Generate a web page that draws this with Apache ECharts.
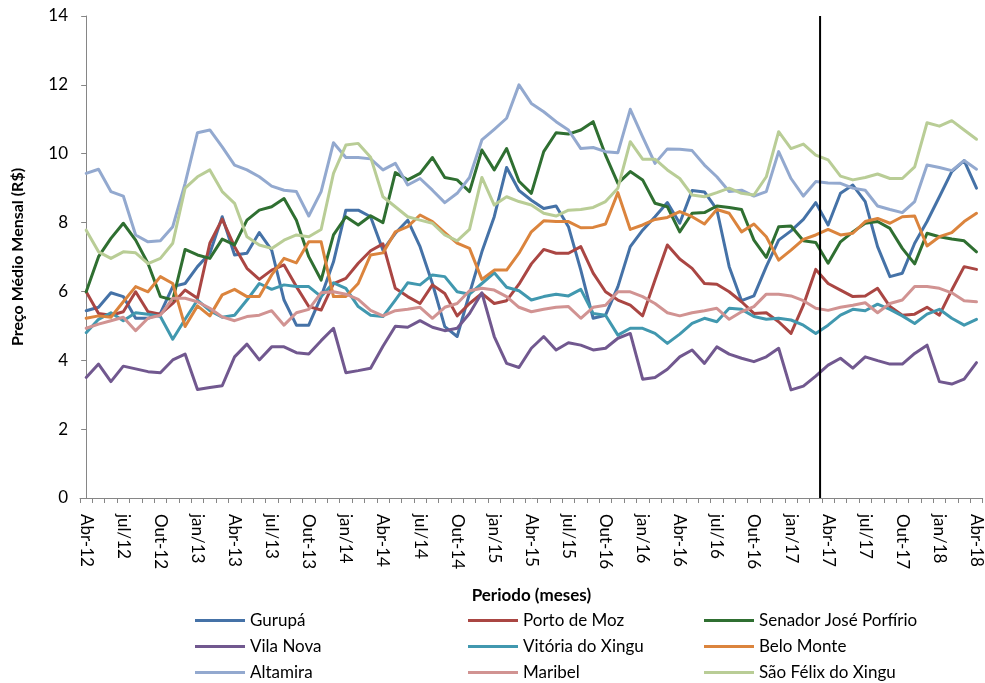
<!DOCTYPE html>
<html><head><meta charset="utf-8">
<script src="https://cdn.jsdelivr.net/npm/echarts@6/dist/echarts.min.js"></script>
<style>html,body{margin:0;padding:0;background:#fff}#c{width:985px;height:683px}</style>
</head><body><div id="c"></div><script>
const categories = [
 "Abr-12","Mai-12","Jun-12","jul/12","Ago-12","Set-12","Out-12","Nov-12","Dez-12",
 "jan/13","Fev-13","Mar-13","Abr-13","Mai-13","Jun-13","jul/13","Ago-13","Set-13","Out-13","Nov-13","Dez-13",
 "jan/14","Fev-14","Mar-14","Abr-14","Mai-14","Jun-14","jul/14","Ago-14","Set-14","Out-14","Nov-14","Dez-14",
 "jan/15","Fev-15","Mar-15","Abr-15","Mai-15","Jun-15","jul/15","Ago-15","Set-15","Out-16","Nov-15","Dez-15",
 "jan/16","Fev-16","Mar-16","Abr-16","Mai-16","Jun-16","jul/16","Ago-16","Set-16","Out-16 ","Nov-16","Dez-16",
 "jan/17","Fev-17","Mar-17","Abr-17","Mai-17","Jun-17","jul/17","Ago-17","Set-17","Out-17","Nov-17","Dez-17",
 "jan/18","Fev-18","Mar-18","Abr-18"];

const gurupa = [5.44,5.54,5.96,5.85,5.22,5.22,5.36,6.14,6.23,6.72,7.11,8.17, 7.06,7.11,7.71,7.2,5.75,5.02,5.02,5.85,6.86,8.36,8.36,8.17, 7.2,7.69,8.07,7.3,6.23,4.98,4.69,5.94,7.15,8.17,9.6,8.93, 8.65,8.41,8.48,7.88,6.62,5.22,5.31,6.14,7.3,7.78,8.17,8.58, 7.98,8.93,8.89,8.38,6.72,5.73,5.87,6.72,7.49,7.76,8.09,8.58, 7.93,8.85,9.09,8.61,7.3,6.43,6.53,7.4,8.03,8.75,9.48,9.8,9.0];
const portoDeMoz = [5.99,5.36,5.31,5.41,5.99,5.41,5.34,5.65,6.04,5.8,7.4,8.1, 7.3,6.67,6.35,6.62,6.77,6.14,5.56,5.46,6.23,6.38,6.82,7.18, 7.38,6.09,5.85,5.65,6.19,5.94,5.29,5.65,5.94,5.65,5.73,6.21, 6.8,7.22,7.11,7.11,7.3,6.53,5.99,5.75,5.6,5.29,6.33,7.35, 6.94,6.67,6.23,6.21,5.99,5.7,5.36,5.38,5.12,4.78,5.6,6.64, 6.23,6.04,5.85,5.87,6.09,5.56,5.31,5.34,5.54,5.31,6.04,6.72,6.64];
const senador = [5.99,7.01,7.54,7.98,7.49,6.81,5.85,5.75,7.22,7.06,6.96,7.52, 7.35,8.07,8.36,8.46,8.7,8.07,7.01,6.33,7.64,8.17,7.93,8.2, 8.0,9.45,9.24,9.43,9.89,9.31,9.24,8.9,10.11,9.53,10.15,9.2, 8.85,10.06,10.61,10.57,10.69,10.93,9.96,9.14,9.48,9.24,8.56,8.46, 7.73,8.27,8.29,8.48,8.44,8.38,7.49,6.99,7.88,7.9,7.47,7.42, 6.82,7.44,7.73,7.98,8.03,7.83,7.25,6.8,7.69,7.59,7.52,7.47,7.15];
const vilaNova = [3.5,3.89,3.38,3.83,3.75,3.67,3.64,4.01,4.18,3.15,3.21,3.26, 4.1,4.47,4.01,4.39,4.39,4.22,4.18,4.57,4.93,3.64,3.7,3.77, 4.41,4.99,4.96,5.15,4.96,4.86,4.93,5.36,5.96,4.69,3.91,3.79, 4.35,4.69,4.3,4.51,4.44,4.3,4.35,4.64,4.78,3.45,3.5,3.74, 4.1,4.3,3.91,4.39,4.18,4.06,3.96,4.1,4.35,3.14,3.25,3.54, 3.86,4.06,3.77,4.1,3.99,3.89,3.89,4.2,4.44,3.38,3.31,3.45,3.93];
const vitoria = [4.8,5.19,5.38,5.15,5.38,5.34,5.27,4.61,5.19,5.75,5.44,5.25, 5.31,5.75,6.23,6.06,6.19,6.14,6.14,5.85,6.25,6.09,5.56,5.31, 5.27,5.75,6.25,6.19,6.48,6.43,5.99,5.92,6.23,6.54,6.12,6.02, 5.75,5.85,5.92,5.87,6.06,5.36,5.31,4.73,4.93,4.93,4.78,4.49, 4.76,5.07,5.22,5.12,5.51,5.48,5.27,5.19,5.22,5.17,5.02,4.78, 5.02,5.31,5.48,5.44,5.63,5.48,5.29,5.07,5.34,5.48,5.22,5.02,5.19];
const beloMonte = [5.22,5.29,5.25,5.7,6.14,5.99,6.43,6.23,4.98,5.58,5.29,5.9, 6.06,5.85,5.85,6.48,6.96,6.83,7.44,7.44,5.85,5.85,6.23,7.06, 7.12,7.73,7.88,8.22,8.03,7.71,7.4,7.25,6.35,6.62,6.62,7.11, 7.73,8.05,8.03,8.03,7.85,7.86,7.96,8.87,7.8,7.93,8.09,8.15, 8.32,8.17,7.96,8.38,8.27,7.73,7.96,7.59,6.91,7.2,7.51,7.64, 7.8,7.64,7.69,8.03,8.12,7.98,8.17,8.19,7.32,7.59,7.71,8.03,8.27];
const altamira = [9.43,9.55,8.9,8.77,7.64,7.44,7.47,7.88,9.14,10.61,10.69,10.2, 9.67,9.53,9.33,9.06,8.94,8.9,8.19,8.9,10.32,9.89,9.89,9.85, 9.53,9.72,9.09,9.28,8.94,8.58,8.85,9.31,10.4,10.71,11.03,12.0, 11.46,11.22,10.93,10.69,10.15,10.18,10.06,10.03,11.29,10.49,9.72,10.14, 10.13,10.09,9.67,9.33,8.9,8.94,8.77,8.9,10.06,9.28,8.77,9.19, 9.15,9.14,9.0,8.94,8.48,8.38,8.29,8.61,9.67,9.6,9.51,9.8,9.55];
const maribel = [4.93,5.05,5.15,5.25,4.86,5.22,5.31,5.8,5.8,5.7,5.51,5.26, 5.15,5.27,5.31,5.44,5.02,5.38,5.48,5.96,5.99,5.92,5.77,5.45, 5.29,5.44,5.48,5.54,5.22,5.54,5.65,6.02,6.09,6.04,5.85,5.54, 5.41,5.48,5.54,5.56,5.22,5.54,5.6,5.99,5.99,5.85,5.65,5.38, 5.29,5.38,5.44,5.51,5.19,5.41,5.56,5.92,5.92,5.87,5.73,5.51, 5.45,5.54,5.6,5.67,5.38,5.65,5.75,6.14,6.14,6.09,5.96,5.73,5.7];
const saoFelix = [7.78,7.15,6.96,7.15,7.12,6.81,6.96,7.4,9.0,9.33,9.53,8.9, 8.56,7.59,7.35,7.25,7.49,7.64,7.59,7.8,9.43,10.25,10.3,9.9, 8.75,8.46,8.17,8.07,7.98,7.64,7.47,7.8,9.31,8.51,8.75,8.61, 8.51,8.27,8.19,8.36,8.38,8.44,8.61,9.0,10.35,9.84,9.84,9.53, 9.28,8.8,8.75,8.87,9.0,8.85,8.8,9.33,10.64,10.15,10.28,9.96, 9.82,9.35,9.24,9.31,9.41,9.28,9.28,9.62,10.9,10.8,10.96,10.69,10.42];

const seriesNames = ["Gurupá","Porto de Moz","Senador José Porfírio","Vila Nova","Vitória do Xingu","Belo Monte","Altamira","Maribel","São Félix do Xingu"];
const seriesData = [gurupa, portoDeMoz, senador, vilaNova, vitoria, beloMonte, altamira, maribel, saoFelix];
const colors = ["#4572A7","#AA4643","#2F6F31","#71588F","#4198AF","#DB843D","#93A9CF","#D19392","#B9CD96"];
const yTicks = {min: 0, max: 14, interval: 2};
const markerPosition = 59.35; // vertical reference line (between Mar-17 and Abr-17)

const FONT = "Lato";
const chart = echarts.init(document.getElementById('c'), null, {renderer: 'canvas'});

const lineSeries = seriesNames.map((n, k) => ({
  name: n, type: 'line', data: seriesData[k], symbol: 'none', showSymbol: false,
  lineStyle: {width: 3, color: colors[k], cap: 'round', join: 'round'},
  itemStyle: {color: colors[k]}, z: 3 + k, animation: false
}));
lineSeries.push({
  name: 'marker', type: 'line', xAxisIndex: 1, symbol: 'none',
  data: [[markerPosition, yTicks.min], [markerPosition, yTicks.max]],
  lineStyle: {width: 2, color: '#000'}, z: 20, animation: false, silent: true
});

const legendCommon = {
  orient: 'vertical', top: 612, height: 90, padding: 0, itemWidth: 50, itemHeight: 17, itemGap: 9,
  textStyle: {fontFamily: FONT, fontSize: 17, color: '#000'}, icon: 'path://M0,6 L50,6 L50,9 L0,9 Z',
  selectedMode: false
};

chart.setOption({
  animation: false,
  grid: {left: 80, right: 2, top: 16, bottom: 185},
  xAxis: [{
    type: 'category', data: categories, boundaryGap: true,
    axisLine: {lineStyle: {color: '#868686', width: 1}},
    axisTick: {show: true, interval: 0, length: 5, lineStyle: {color: '#868686'}},
    axisLabel: {interval: 2, rotate: -90, fontFamily: FONT, fontSize: 17, color: '#000', margin: 16},
    name: 'Periodo (meses)', nameLocation: 'middle', nameGap: 89,
    nameTextStyle: {fontFamily: FONT, fontSize: 17, fontWeight: 'bold', color: '#000'}
  }, {
    type: 'value', min: -0.5, max: 72.5, show: false
  }],
  yAxis: {
    type: 'value', min: yTicks.min, max: yTicks.max, interval: yTicks.interval,
    axisLine: {show: true, lineStyle: {color: '#868686', width: 1}},
    axisTick: {show: true, length: 5, lineStyle: {color: '#868686'}},
    splitLine: {show: false},
    axisLabel: {fontFamily: FONT, fontSize: 17, color: '#000', margin: 12},
    name: 'Preço Médio Mensal (R$)', nameLocation: 'middle', nameGap: 54,
    nameTextStyle: {fontFamily: FONT, fontSize: 16, fontWeight: 'bold', color: '#000'}
  },
  legend: [
    Object.assign({}, legendCommon, {left: 195, data: ["Gurupá","Vila Nova","Altamira"]}),
    Object.assign({}, legendCommon, {left: 468, data: ["Porto de Moz","Vitória do Xingu","Maribel"]}),
    Object.assign({}, legendCommon, {left: 704, data: ["Senador José Porfírio","Belo Monte","São Félix do Xingu"]})
  ],
  series: lineSeries
});
</script></body></html>
